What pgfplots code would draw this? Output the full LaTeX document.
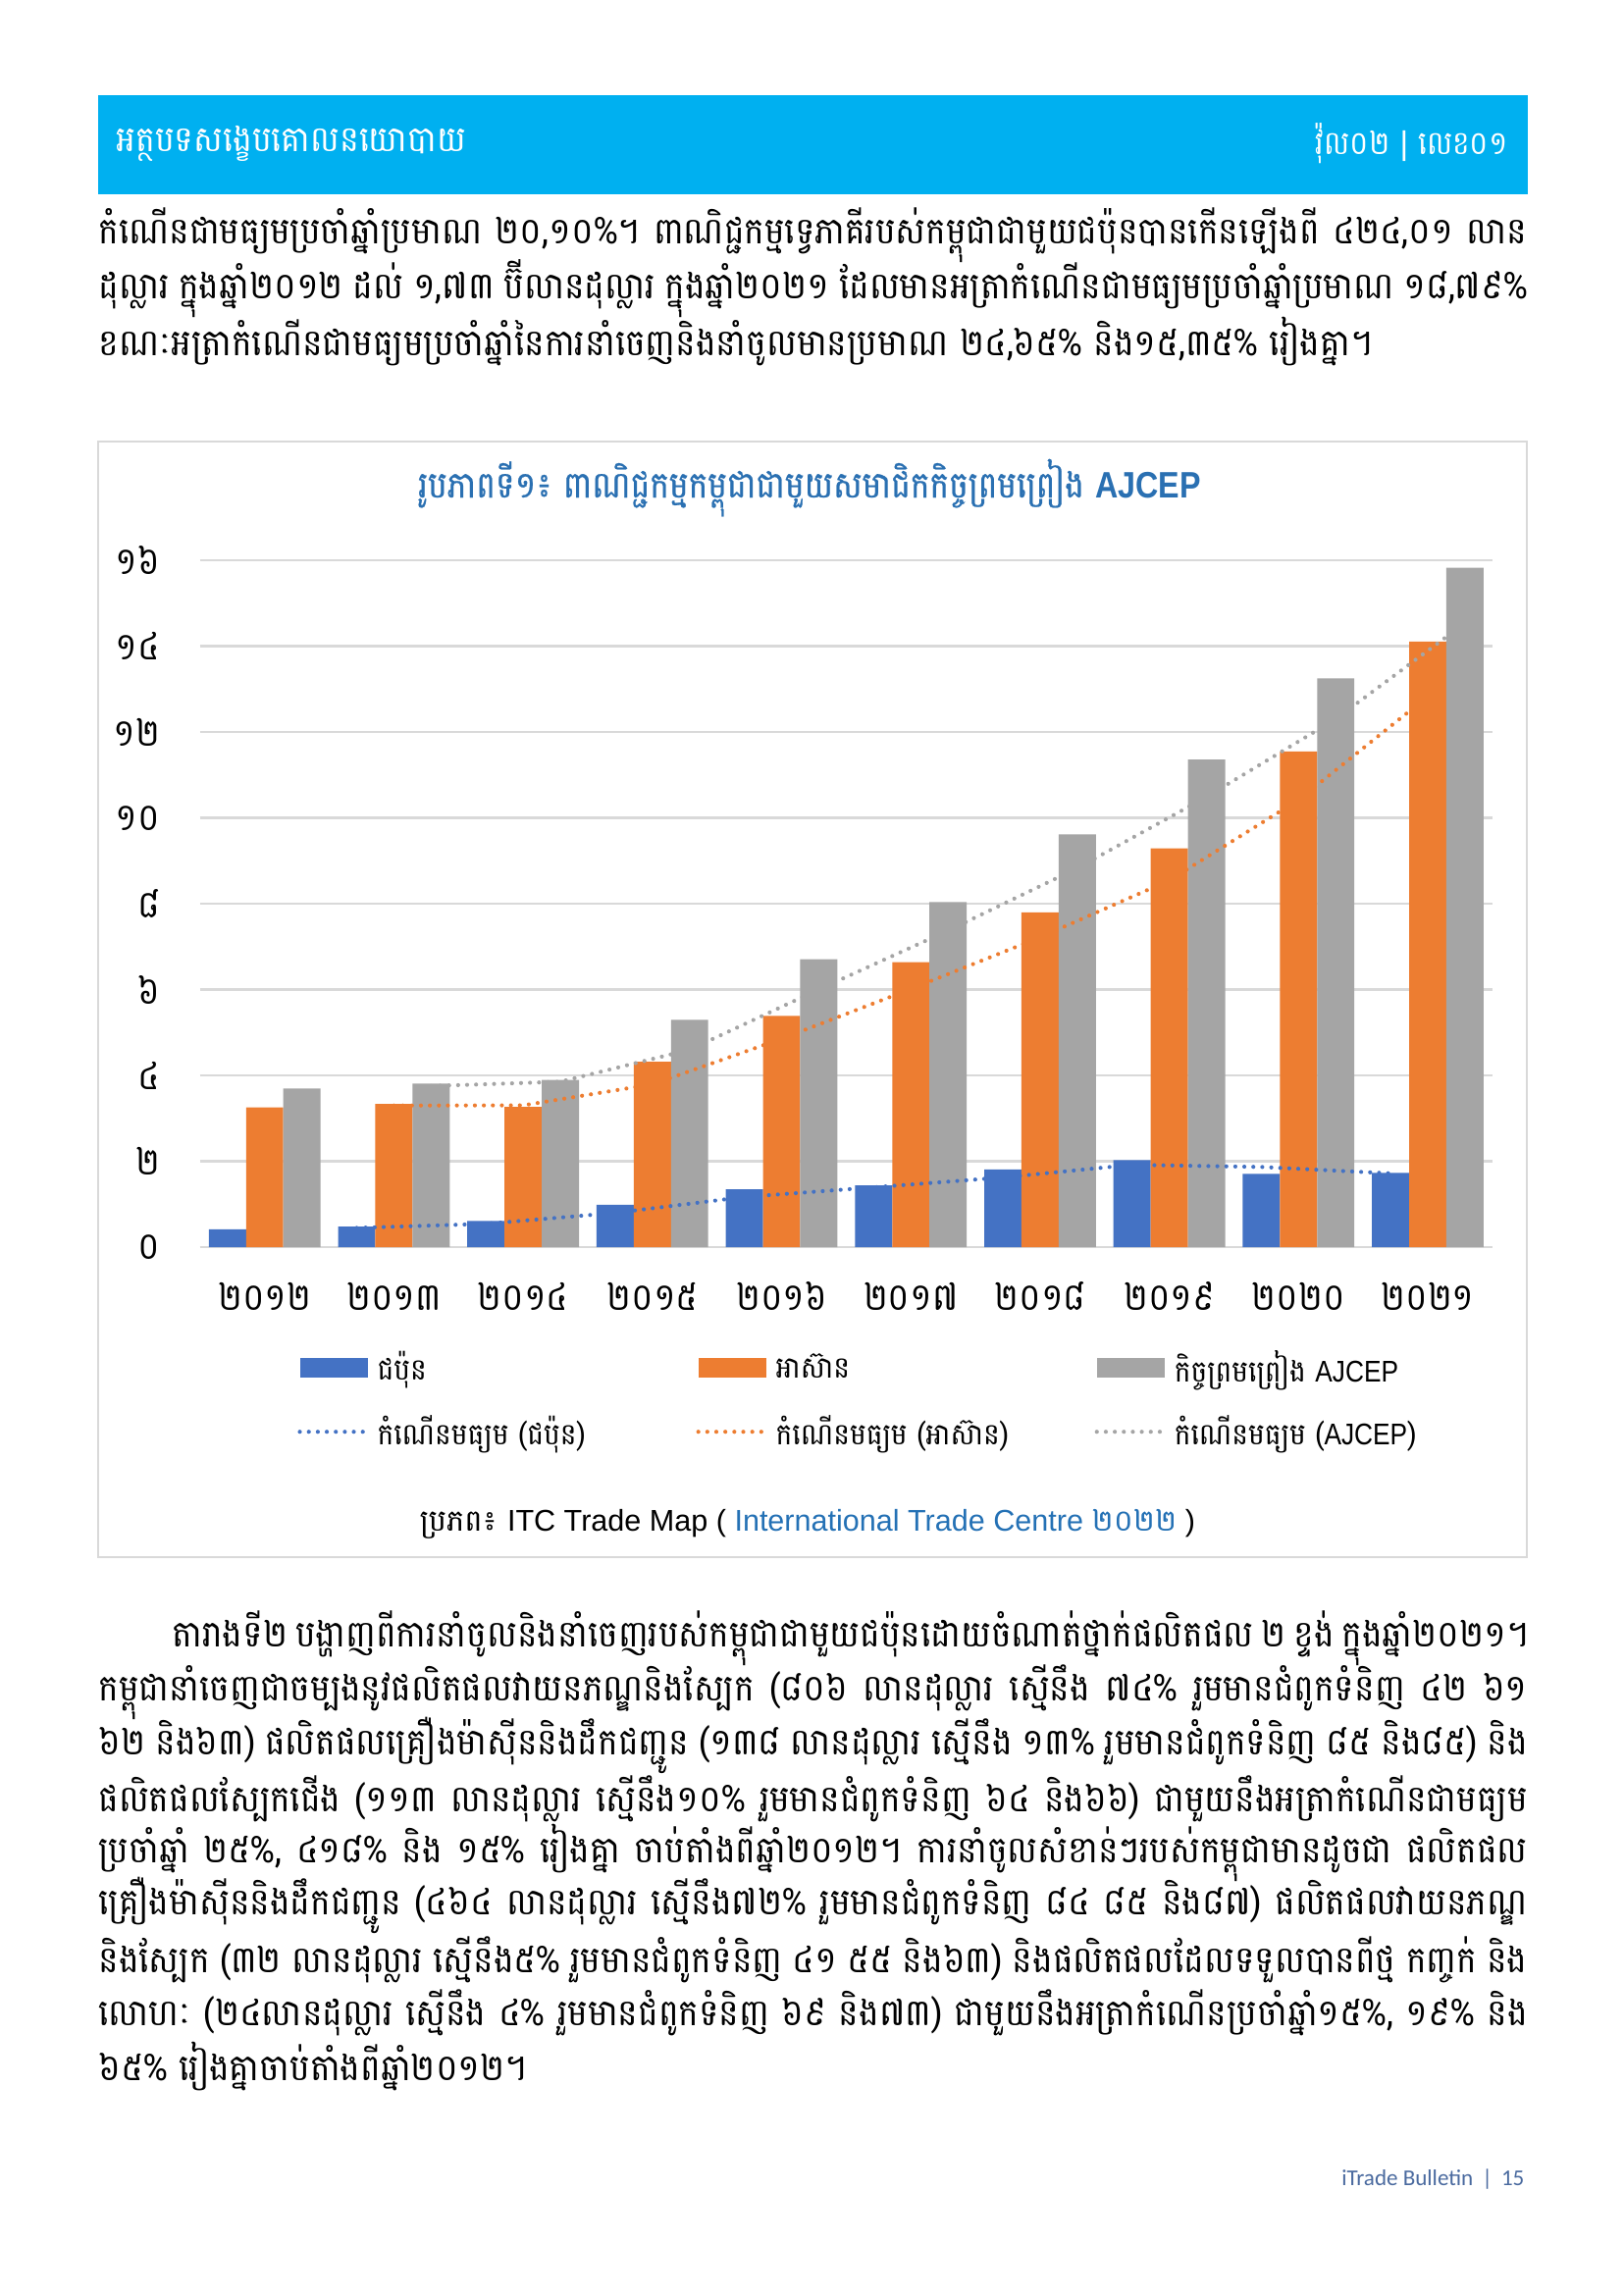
\documentclass[border=0pt]{standalone}
\usepackage{pgfplots}
\pgfplotsset{compat=1.18}
\usepackage{fontspec}
\setmainfont{Liberation Sans}
\newfontfamily\kh[Script=Khmer]{Battambang}
\newfontfamily\khn[Script=Khmer, FakeStretch=0.92]{Battambang}
\newfontfamily\khc[Script=Khmer, FakeStretch=0.88]{Battambang}
\newfontfamily\khtitle[Script=Khmer, FakeStretch=0.88, FakeBold=0.6]{Battambang}
\newfontfamily\arialn[FakeStretch=0.86]{Liberation Sans}
\newfontfamily\calfont{Carlito}
\definecolor{band}{HTML}{00B0F0}
\definecolor{jblue}{HTML}{4472C4}
\definecolor{aorange}{HTML}{ED7D31}
\definecolor{agray}{HTML}{A5A5A5}
\definecolor{gridgray}{HTML}{D9D9D9}
\definecolor{titleblue}{HTML}{2A70B2}
\definecolor{srcblue}{HTML}{2471B5}
\definecolor{footblue}{HTML}{4A6A9F}
\newcommand{\bodyfont}{\khn\fontsize{13.5}{15}\selectfont}
\newcommand{\bline}[1]{\makebox[524.2pt][s]{\bodyfont #1}}
\newcommand{\iline}[1]{\makebox[497.2pt][s]{\bodyfont #1}}
\newcommand{\nline}[1]{{\bodyfont #1}}
\begin{document}
\begin{tikzpicture}
\begin{scope}[x=0.36pt,y=-0.36pt]
\path[use as bounding box, fill=white] (0,0) rectangle (1654,2339);
\fill[band] (100,97) rectangle (1557,198);
\node[anchor=west, text=white, inner sep=0] at (118,146) {\khn\fontsize{13}{15}\selectfont អត្ថបទសង្ខេបគោលនយោបាយ};
\node[anchor=east, text=white, inner sep=0] at (1537,146) {\khc\fontsize{12}{15}\selectfont វ៉ុល០២ {\rmfamily |} លេខ០១};
% paragraph 1
\node[anchor=west, inner sep=0] at (100,240) {\bline{កំណើនជាមធ្យមប្រចាំឆ្នាំប្រមាណ ២០,១០\%។ ពាណិជ្ជកម្មទ្វេភាគីរបស់កម្ពុជាជាមួយជប៉ុនបានកើនឡើងពី ៤២៤,០១ លាន}};
\node[anchor=west, inner sep=0] at (100,294) {\bline{ដុល្លារ ក្នុងឆ្នាំ២០១២ ដល់ ១,៧៣ ប៊ីលានដុល្លារ ក្នុងឆ្នាំ២០២១ ដែលមានអត្រាកំណើនជាមធ្យមប្រចាំឆ្នាំប្រមាណ ១៨,៧៩\%}};
\node[anchor=west, inner sep=0] at (100,348) {\nline{ខណៈអត្រាកំណើនជាមធ្យមប្រចាំឆ្នាំនៃការនាំចេញនិងនាំចូលមានប្រមាណ ២៤,៦៥\% និង១៥,៣៥\% រៀងគ្នា។}};
% chart frame
\draw[gridgray, line width=0.9pt] (100,450) rectangle (1556,1587);
\node[text=titleblue, inner sep=0] at (825,497) {\khtitle\fontsize{13.5}{15}\selectfont រូបភាពទី១៖ ពាណិជ្ជកម្មកម្ពុជាជាមួយសមាជិកកិច្ចព្រមព្រៀង {\arialn\bfseries AJCEP}};
\node[inner sep=0] at (823,1553) {\kh\fontsize{11}{13}\selectfont ប្រភព៖ {\rmfamily ITC Trade Map ( \textcolor{srcblue}{International Trade Centre {\kh ២០២២}} )}};
% lower paragraph
\node[anchor=west, inner sep=0] at (175,1670) {\iline{តារាងទី២ បង្ហាញពីការនាំចូលនិងនាំចេញរបស់កម្ពុជាជាមួយជប៉ុនដោយចំណាត់ថ្នាក់ផលិតផល ២ ខ្ទង់ ក្នុងឆ្នាំ២០២១។}};
\node[anchor=west, inner sep=0] at (100,1725) {\bline{កម្ពុជានាំចេញជាចម្បងនូវផលិតផលវាយនភណ្ឌនិងស្បែក (៨០៦ លានដុល្លារ ស្មើនឹង ៧៤\% រួមមានជំពូកទំនិញ ៤២ ៦១}};
\node[anchor=west, inner sep=0] at (100,1779) {\bline{៦២ និង៦៣) ផលិតផលគ្រឿងម៉ាស៊ីននិងដឹកជញ្ជូន (១៣៨ លានដុល្លារ ស្មើនឹង ១៣\% រួមមានជំពូកទំនិញ ៨៥ និង៨៥) និង}};
\node[anchor=west, inner sep=0] at (100,1833) {\bline{ផលិតផលស្បែកជើង (១១៣ លានដុល្លារ ស្មើនឹង១០\% រួមមានជំពូកទំនិញ ៦៤ និង៦៦) ជាមួយនឹងអត្រាកំណើនជាមធ្យម}};
\node[anchor=west, inner sep=0] at (100,1888) {\bline{ប្រចាំឆ្នាំ ២៥\%, ៤១៨\% និង ១៥\% រៀងគ្នា ចាប់តាំងពីឆ្នាំ២០១២។ ការនាំចូលសំខាន់ៗរបស់កម្ពុជាមានដូចជា ផលិតផល}};
\node[anchor=west, inner sep=0] at (100,1942) {\bline{គ្រឿងម៉ាស៊ីននិងដឹកជញ្ជូន (៤៦៤ លានដុល្លារ ស្មើនឹង៧២\% រួមមានជំពូកទំនិញ ៨៤ ៨៥ និង៨៧) ផលិតផលវាយនភណ្ឌ}};
\node[anchor=west, inner sep=0] at (100,1997) {\bline{និងស្បែក (៣២ លានដុល្លារ ស្មើនឹង៥\% រួមមានជំពូកទំនិញ ៤១ ៥៥ និង៦៣) និងផលិតផលដែលទទួលបានពីថ្ម កញ្ចក់ និង}};
\node[anchor=west, inner sep=0] at (100,2051) {\bline{លោហៈ (២៤លានដុល្លារ ស្មើនឹង ៤\% រួមមានជំពូកទំនិញ ៦៩ និង៧៣) ជាមួយនឹងអត្រាកំណើនប្រចាំឆ្នាំ១៥\%, ១៩\% និង}};
\node[anchor=west, inner sep=0] at (100,2106) {\nline{៦៥\% រៀងគ្នាចាប់តាំងពីឆ្នាំ២០១២។}};
% footer
\node[anchor=east, inner sep=0, text=footblue] at (1554,2221) {\calfont\fontsize{8.3}{10}\selectfont iTrade Bulletin \,|\, 15};
\end{scope}
\begin{axis}[
  at={(73.4pt,-457.6pt)}, anchor=south west,
  scale only axis, width=474.1pt, height=252pt,
  xmin=-0.5, xmax=9.5, ymin=0, ymax=16,
  axis x line*=bottom, axis y line*=left,
  x axis line style={draw=gridgray, line width=0.9pt},
  y axis line style={draw=none},
  major tick length=0pt,
  ytick={0,2,...,16},
  yticklabels={០,២,៤,៦,៨,១០,១២,១៤,១៦},
  xtick={0,...,9},
  xticklabels={២០១២,២០១៣,២០១៤,២០១៥,២០១៦,២០១៧,២០១៨,២០១៩,២០២០,២០២១},
  ymajorgrids, grid style={draw=gridgray, line width=0.9pt},
  tick label style={font=\khc\fontsize{14}{16}\selectfont},
  yticklabel style={anchor=east, inner sep=0pt, xshift=-14.5pt},
  xticklabel style={anchor=center, inner sep=0pt, yshift=-18pt},
  clip=false,
  legend columns=3,
  legend cell align=left,
  legend style={at={(0.0752,-0.149)}, anchor=north west, draw=none, fill=none,
    inner sep=0pt, row sep=10.8pt, nodes={inner sep=0pt},
    font=\khn\fontsize{11}{13}\selectfont,
    /tikz/every odd column/.append style={column sep=2.7pt}},
]
\addplot[ybar, bar width=0.288, bar shift=-0.288, fill=jblue, draw=none,
  legend image code/.code={\fill[jblue] (0pt,-3.6pt) rectangle (25pt,3.6pt);}]
  coordinates {(0,0.42) (1,0.48) (2,0.61) (3,0.99) (4,1.35) (5,1.44) (6,1.81) (7,2.03) (8,1.71) (9,1.73)};
\addlegendentry{\makebox[117pt][l]{ជប៉ុន}}
\addplot[ybar, bar width=0.288, bar shift=0, fill=aorange, draw=none,
  legend image code/.code={\fill[aorange] (0pt,-3.6pt) rectangle (25pt,3.6pt);}]
  coordinates {(0,3.26) (1,3.34) (2,3.27) (3,4.32) (4,5.39) (5,6.64) (6,7.80) (7,9.29) (8,11.55) (9,14.11)};
\addlegendentry{\makebox[117pt][l]{អាស៊ាន}}
\addplot[ybar, bar width=0.288, bar shift=0.288, fill=agray, draw=none,
  legend image code/.code={\fill[agray] (0pt,-3.6pt) rectangle (25pt,3.6pt);}]
  coordinates {(0,3.70) (1,3.81) (2,3.90) (3,5.30) (4,6.71) (5,8.04) (6,9.62) (7,11.36) (8,13.25) (9,15.83)};
\addlegendentry{\makebox[117pt][l]{កិច្ចព្រមព្រៀង {\arialn AJCEP}}}
\addplot[jblue, line width=1.5pt, dash pattern=on 0pt off 3.3pt, line cap=round, mark=none,
  legend image code/.code={\draw[jblue, line width=1.5pt, dash pattern=on 0pt off 3.3pt, line cap=round] (0pt,0pt) -- (25pt,0pt);}]
  coordinates {(0.712,0.45) (1.712,0.545) (2.712,0.80) (3.712,1.17) (4.712,1.395) (5.712,1.625) (6.712,1.92) (7.712,1.87) (8.712,1.72)};
\addlegendentry{\makebox[117pt][l]{កំណើនមធ្យម (ជប៉ុន)}}
\addplot[aorange, line width=1.5pt, dash pattern=on 0pt off 3.3pt, line cap=round, mark=none,
  legend image code/.code={\draw[aorange, line width=1.5pt, dash pattern=on 0pt off 3.3pt, line cap=round] (0pt,0pt) -- (25pt,0pt);}]
  coordinates {(1,3.30) (2,3.305) (3,3.795) (4,4.855) (5,6.015) (6,7.22) (7,8.545) (8,10.42) (9,12.83)};
\addlegendentry{\makebox[117pt][l]{កំណើនមធ្យម (អាស៊ាន)}}
\addplot[agray, line width=1.5pt, dash pattern=on 0pt off 3.3pt, line cap=round, mark=none,
  legend image code/.code={\draw[agray, line width=1.5pt, dash pattern=on 0pt off 3.3pt, line cap=round] (0pt,0pt) -- (25pt,0pt);}]
  coordinates {(1.288,3.755) (2.288,3.855) (3.288,4.60) (4.288,6.005) (5.288,7.375) (6.288,8.83) (7.288,10.49) (8.288,12.305) (9.288,14.54)};
\addlegendentry{\makebox[117pt][l]{កំណើនមធ្យម ({\arialn AJCEP})}}
\end{axis}
\end{tikzpicture}
\end{document}
